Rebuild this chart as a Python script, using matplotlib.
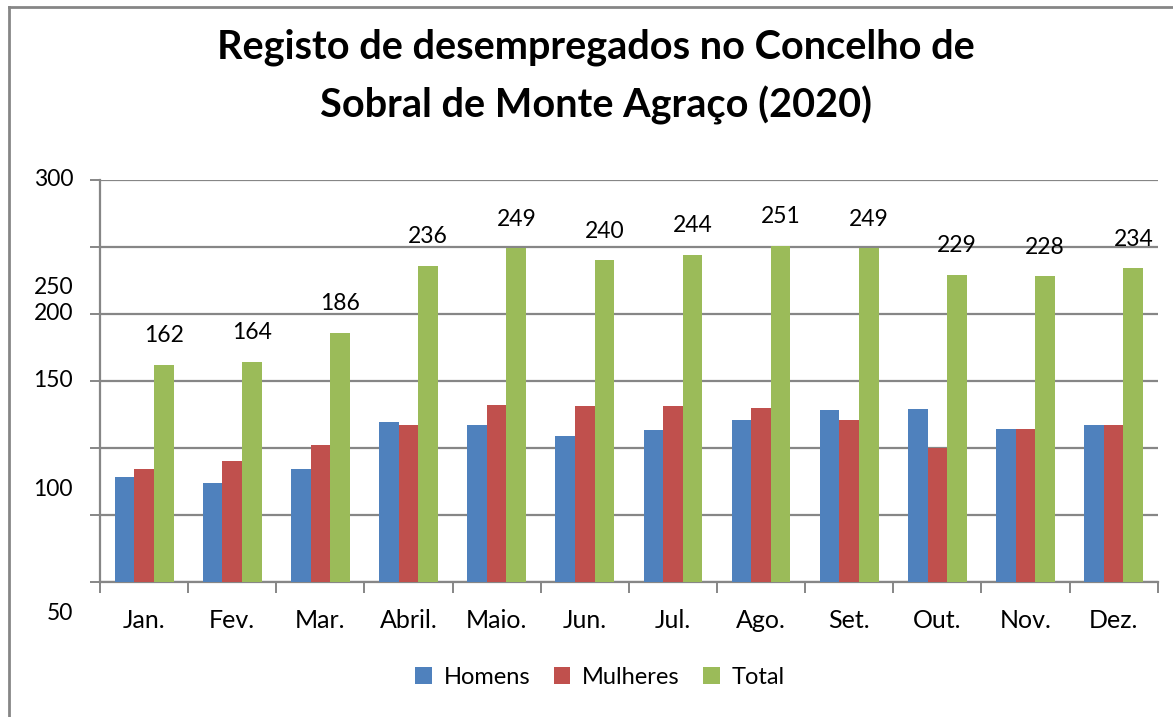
import numpy as np
import matplotlib.pyplot as plt
from matplotlib.lines import Line2D
from matplotlib.transforms import blended_transform_factory

plt.rcParams['font.family'] = ['Lato', 'DejaVu Sans']

# Dados
meses = ['Jan.', 'Fev.', 'Mar.', 'Abril.', 'Maio.', 'Jun.', 'Jul.', 'Ago.',
         'Set.', 'Out.', 'Nov.', 'Dez.']
homens = [78, 74, 84, 119, 117, 109, 113, 121, 128, 129, 114, 117]
mulheres = [84, 90, 102, 117, 132, 131, 131, 130, 121, 100, 114, 117]
total = [162, 164, 186, 236, 249, 240, 244, 251, 249, 229, 228, 234]

# rótulos do eixo y tal como aparecem no original (desalinhados)
rotulos_y = ['300', '250', '200', '150', '100', '50']
pos_rotulos_y = [300, 220, 200, 150, 69, -23.5]

cinza = '#868686'
cores = ['#4F81BD', '#C0504D', '#9BBB59']

fig = plt.figure(figsize=(11.73, 7.17), dpi=100)
ax = fig.add_axes([0.0853, 0.1887, 0.9017, 0.5603])

x = np.arange(len(meses))
w = 1 / 4.5
ax.bar(x - w, homens, w, color=cores[0], label='Homens', zorder=3)
ax.bar(x, mulheres, w, color=cores[1], label='Mulheres', zorder=3)
ax.bar(x + w, total, w, color=cores[2], label='Total', zorder=3)

for xi, v in zip(x + w, total):
    ax.annotate(str(v), (xi, v), xytext=(0, 21), textcoords='offset points',
                ha='center', va='center', fontsize=16.5)

ax.set_xlim(-0.5, len(meses) - 0.5)
ax.set_ylim(0, 300)

# grelha horizontal
ax.set_yticks(np.arange(0, 301, 50))
ax.set_yticklabels([])
ax.grid(axis='y', color=cinza, linewidth=1.6, zorder=0)
ax.tick_params(axis='y', length=7, width=1.4, color=cinza, direction='out')

trans = blended_transform_factory(ax.transAxes, ax.transData)
for txt, yv in zip(rotulos_y, pos_rotulos_y):
    ax.text(-0.0255, yv, txt, transform=trans, ha='right', va='center',
            fontsize=16.5, clip_on=False)

# marcas entre categorias e rótulos no centro
ax.set_xticks(np.arange(-0.5, len(meses), 1))
ax.set_xticklabels([])
ax.set_xticks(x, minor=True)
ax.set_xticklabels(meses, minor=True, fontsize=18)
ax.tick_params(axis='x', which='major', length=8, width=1.4, color=cinza)
ax.tick_params(axis='x', which='minor', length=0, pad=20)

for s in ['top', 'right']:
    ax.spines[s].set_visible(False)
for s in ['left', 'bottom']:
    ax.spines[s].set_color(cinza)
    ax.spines[s].set_linewidth(1.6)

# título
fig.text(0.508, 1 - 47 / 717, 'Registo de desempregados no Concelho de',
         ha='center', va='center', fontsize=28.5, fontweight='bold')
fig.text(0.508, 1 - 105 / 717, 'Sobral de Monte Agraço (2020)',
         ha='center', va='center', fontsize=28.5, fontweight='bold')

# legenda
fig.legend(loc='center', bbox_to_anchor=(600 / 1173, 1 - 677 / 717), ncol=3,
           frameon=False, fontsize=17, handlelength=0.7, handleheight=0.7,
           handletextpad=0.5, columnspacing=1.0)

# moldura do gráfico
fig.add_artist(Line2D([9 / 1173, 9 / 1173], [0, 1 - 7 / 717], color=cinza,
                      linewidth=2, transform=fig.transFigure))
fig.add_artist(Line2D([9 / 1173, 1], [1 - 7 / 717, 1 - 7 / 717], color=cinza,
                      linewidth=2, transform=fig.transFigure))

fig.savefig('out.png', dpi=100)
